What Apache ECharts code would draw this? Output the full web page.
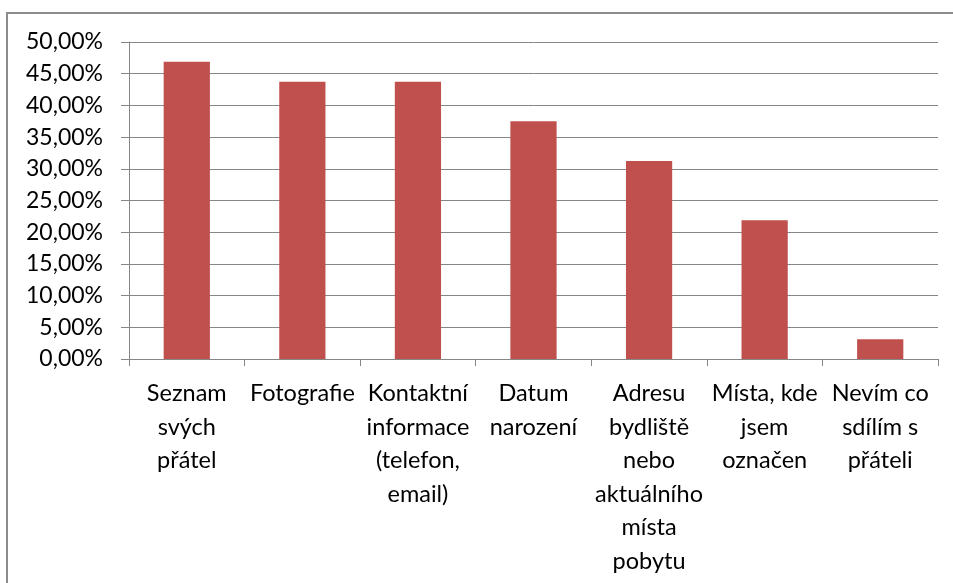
<!DOCTYPE html>
<html>
<head>
<meta charset="utf-8">
<script src="https://cdn.jsdelivr.net/npm/echarts@6/dist/echarts.min.js"></script>
<style>
  html, body { margin: 0; padding: 0; background: #fff; }
  #main-chart { width: 953px; height: 583px; }
</style>
</head>
<body>
<div id="main-chart"></div>
<script>
// categories (line breaks as in the original axis labels)
const categories = [
  "Seznam\nsvých\npřátel",
  "Fotografie",
  "Kontaktní\ninformace\n(telefon,\nemail)",
  "Datum\nnarození",
  "Adresu\nbydliště\nnebo\naktuálního\nmísta\npobytu",
  "Místa, kde\njsem\noznačen",
  "Nevím co\nsdílím s\npřáteli"
];

// share of respondents, in percent
const values = [46.875, 43.75, 43.75, 37.5, 31.25, 21.875, 3.125];

const axisGray = "#868686";
const barColor = "#C0504D";
const font = "Lato, 'Noto Sans', sans-serif";

const chartInstance = echarts.init(document.getElementById("main-chart"));

chartInstance.setOption({
  animation: false,
  backgroundColor: "#fff",
  graphic: [{
    type: "rect",
    shape: { x: 7, y: 13, width: 1000, height: 1000 },
    style: { fill: "none", stroke: "#8c8c8c", lineWidth: 2 },
    silent: true
  }],
  grid: { left: 129, right: 15, top: 42, bottom: 224 },
  xAxis: {
    type: "category",
    data: categories,
    axisLine: { lineStyle: { color: axisGray, width: 1 } },
    axisTick: { show: true, length: 7, lineStyle: { color: axisGray } },
    axisLabel: {
      interval: 0,
      margin: 18,
      color: "#000",
      fontFamily: font,
      fontSize: 23.5,
      lineHeight: 33.5,
      align: "center"
    }
  },
  yAxis: {
    type: "value",
    min: 0,
    max: 50,
    interval: 5,
    axisLine: { show: true, lineStyle: { color: axisGray, width: 1 } },
    axisTick: { show: true, length: 8, lineStyle: { color: axisGray } },
    splitLine: { show: true, lineStyle: { color: axisGray, width: 1 } },
    axisLabel: {
      margin: 26,
      color: "#000",
      fontFamily: font,
      fontSize: 23,
      formatter: v => v.toFixed(2).replace(".", ",") + "%"
    }
  },
  series: [{
    type: "bar",
    data: values,
    barCategoryGap: "60%",
    itemStyle: { color: barColor }
  }]
});

window.addEventListener("resize", () => {
  chartInstance.resize();
});
</script>
</body>
</html>
